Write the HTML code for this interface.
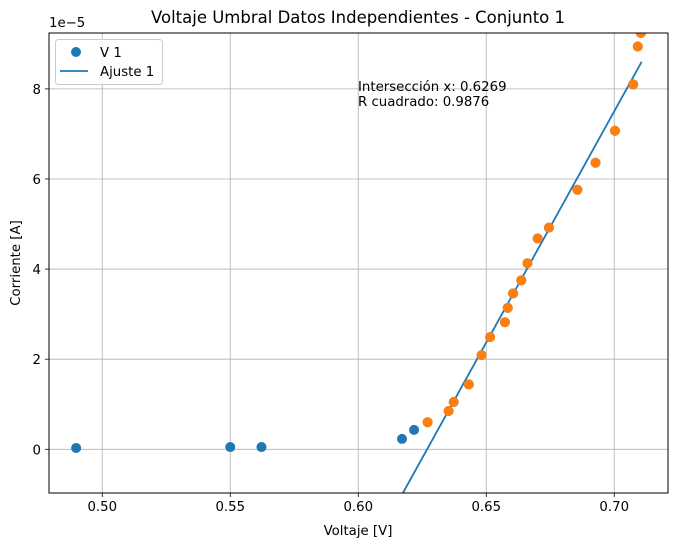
<!DOCTYPE html>
<html><head><meta charset="utf-8"><style>
body{margin:0;background:#fff}
svg{display:block;font-family:"DejaVu Sans","Liberation Sans",sans-serif}
</style></head><body>
<svg id="chart" width="678" height="547">
<rect width="678" height="547" fill="#fff"/>
<g id="grid"></g>
<g id="series"></g>
<g id="axes"></g>
<text x="358" y="23" text-anchor="middle" font-size="16.5">Voltaje Umbral Datos Independientes - Conjunto 1</text>
<text x="358" y="535" text-anchor="middle" font-size="13.3">Voltaje [V]</text>
<text transform="translate(20,263) rotate(-90)" text-anchor="middle" font-size="13.3">Corriente [A]</text>
<text x="49" y="27" font-size="13.3">1e−5</text>
<text x="358" y="91" font-size="13.3">Intersección x: 0.6269</text>
<text x="358" y="106" font-size="13.3">R cuadrado: 0.9876</text>
<g>
<rect x="55.5" y="39.5" width="107" height="45" rx="3" fill="#fff" fill-opacity="0.8" stroke="#ccc"/>
<circle cx="76" cy="52" r="5" fill="#1f77b4"/>
<text x="100" y="57" font-size="13.3">V 1</text>
<line x1="60" y1="71" x2="88" y2="71" stroke="#1f77b4" stroke-width="1.8"/>
<text x="100" y="76" font-size="13.3">Ajuste 1</text>
</g>
</svg>
<script>
const xTicks=[0.50,0.55,0.60,0.65,0.70];
const xTickLabels=["0.50","0.55","0.60","0.65","0.70"];
const yTicks=[0,2,4,6,8];
const yTickLabels=["0","2","4","6","8"];
const allX=[0.4898,0.5500,0.5622,0.6171,0.6218,0.6271,0.6353,0.6373,0.6432,0.6482,0.6515,0.6573,0.6584,0.6605,0.6637,0.6661,0.6701,0.6745,0.6856,0.6927,0.7003,0.7074,0.7092,0.7104];
const allY=[0.03,0.05,0.05,0.23,0.43,0.60,0.85,1.05,1.44,2.09,2.49,2.82,3.14,3.46,3.75,4.13,4.68,4.92,5.76,6.36,7.07,8.10,8.94,9.24];
const fitX=[0.6271,0.6353,0.6373,0.6432,0.6482,0.6515,0.6573,0.6584,0.6605,0.6637,0.6661,0.6701,0.6745,0.6856,0.6927,0.7003,0.7074,0.7092,0.7104];
const fitY=[0.60,0.85,1.05,1.44,2.09,2.49,2.82,3.14,3.46,3.75,4.13,4.68,4.92,5.76,6.36,7.07,8.10,8.94,9.24];
const lineX=[0.6174,0.7107];
const lineY=[-0.975,8.60];
const L=49,R=668,T=33,B=493,xmin=0.4792,xmax=0.7210,ymin=-0.97,ymax=9.24;
const sx=v=>L+(v-xmin)/(xmax-xmin)*(R-L);
const sy=v=>B-(v-ymin)/(ymax-ymin)*(B-T);
const NS="http://www.w3.org/2000/svg";
function mk(tag,attrs,parent){const e=document.createElementNS(NS,tag);for(const k in attrs)e.setAttribute(k,attrs[k]);parent.appendChild(e);return e;}
const grid=document.getElementById('grid'),axes=document.getElementById('axes'),series=document.getElementById('series');
const defs=mk('defs',{},document.getElementById('chart'));
const cp=mk('clipPath',{id:'clip'},defs);mk('rect',{x:L,y:T,width:R-L,height:B-T},cp);
series.setAttribute('clip-path','url(#clip)');
xTicks.forEach((v,i)=>{const x=sx(v);
const g=mk('line',{x1:x,x2:x,y1:T,y2:B,stroke:'#b0b0b0','stroke-width':0.8},grid);


const t=mk('line',{x1:x,x2:x,y1:B,y2:B+4,stroke:'#000','stroke-width':0.8},axes);


const l=mk('text',{x:x,y:B+18,'text-anchor':'middle','font-size':13.3},axes);l.textContent=xTickLabels[i];

});
yTicks.forEach((v,i)=>{const y=sy(v);
const g=mk('line',{x1:L,x2:R,y1:y,y2:y,stroke:'#b0b0b0','stroke-width':0.8},grid);


const t=mk('line',{x1:L-4,x2:L,y1:y,y2:y,stroke:'#000','stroke-width':0.8},axes);


const l=mk('text',{x:L-8,y:y+5,'text-anchor':'end','font-size':13.3},axes);l.textContent=yTickLabels[i];

});
const fr=mk('rect',{x:L,y:T,width:R-L,height:B-T,fill:'none',stroke:'#000','stroke-width':1},axes);


allX.forEach((v,i)=>{const c=mk('circle',{cx:sx(v),cy:sy(allY[i]),r:5,fill:'#1f77b4'},series);

});
const ln=mk('line',{x1:sx(lineX[0]),y1:sy(lineY[0]),x2:sx(lineX[1]),y2:sy(lineY[1]),stroke:'#1f77b4','stroke-width':1.8},series);


fitX.forEach((v,i)=>{const c=mk('circle',{cx:sx(v),cy:sy(fitY[i]),r:5,fill:'#ff7f0e'},series);

});
</script>
</body></html>
